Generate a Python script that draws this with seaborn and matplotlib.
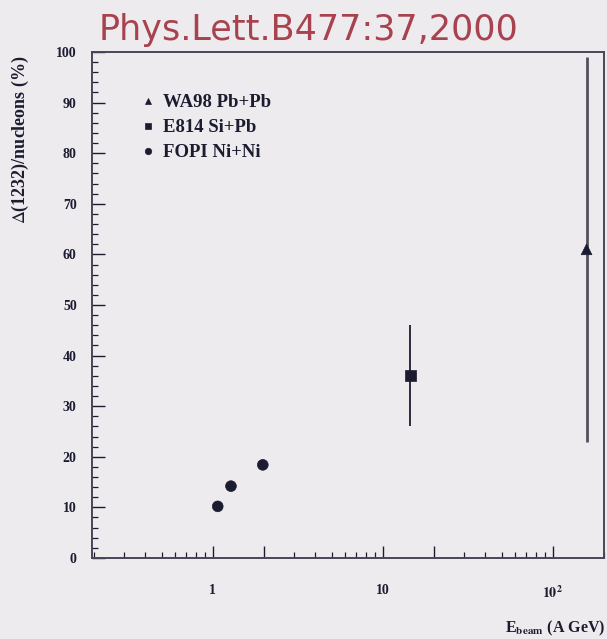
import matplotlib
matplotlib.use("Agg")
import matplotlib.pyplot as plt
import matplotlib.ticker as mticker
import numpy as np
import pandas as pd
import seaborn as sns

# Delta(1232) fraction of nucleons versus beam energy
experiments = ["WA98 Pb+Pb", "E814 Si+Pb", "FOPI Ni+Ni"]
wa98_energy = [158.0]
wa98_frac = [61.0]
wa98_err = [38.0]
e814_energy = [14.5]
e814_frac = [36.0]
e814_err = [10.0]
fopi_energy = [1.07, 1.28, 1.97]
fopi_frac = [10.2, 14.2, 18.4]
fopi_err = [0.0, 0.0, 0.0]

x_ticks = [1, 2, 10, 20, 100]
x_ticklabels = ["1", "", "10", "", r"$\mathbf{10^{2}}$"]
y_ticks = list(range(0, 101, 10))

df = pd.DataFrame({
    "energy": wa98_energy + e814_energy + fopi_energy,
    "frac": wa98_frac + e814_frac + fopi_frac,
    "err": wa98_err + e814_err + fopi_err,
    "exp": [experiments[0]] * len(wa98_energy)
           + [experiments[1]] * len(e814_energy)
           + [experiments[2]] * len(fopi_energy),
})

sns.set_theme(style="white")
bg = "#eeebee"
ink = "#1c1c30"
plt.rcParams["font.family"] = ["Liberation Serif", "DejaVu Serif"]
plt.rcParams["mathtext.fontset"] = "stix"

fig = plt.figure(figsize=(6.07, 6.39), dpi=100, facecolor=bg)
ax = fig.add_axes([0.1516, 0.1268, 0.8434, 0.7918], facecolor=bg)

# vertical error bars without caps
for _, r in df[df["err"] > 0].iterrows():
    ax.errorbar(r["energy"], r["frac"], yerr=r["err"], fmt="none",
                ecolor=ink if r["exp"] != experiments[0] else "#55505e",
                elinewidth=1.3 if r["exp"] != experiments[0] else 2.0,
                capsize=0, zorder=2)

sns.scatterplot(data=df, x="energy", y="frac", hue="exp", style="exp",
                hue_order=experiments, style_order=experiments,
                palette=[ink] * 3,
                markers={experiments[0]: "^", experiments[1]: "s", experiments[2]: "o"},
                s=60, edgecolor=ink, linewidth=0.5, ax=ax, zorder=3, legend=True)

ax.set_xscale("log")
ax.set_xlim(0.195, 200)
ax.set_ylim(0, 100)

ax.set_xticks(x_ticks)
ax.set_xticklabels(x_ticklabels)
ax.xaxis.set_minor_locator(mticker.LogLocator(base=10, subs=[3, 4, 5, 6, 7, 8, 9, 2], numticks=20))
ax.set_yticks(y_ticks)
ax.yaxis.set_minor_locator(mticker.MultipleLocator(2))

ax.tick_params(axis="both", which="both", bottom=True, left=True, top=False, right=False)
ax.tick_params(axis="both", which="major", direction="in", length=9, width=1.0,
               colors=ink, labelsize=10)
ax.tick_params(axis="both", which="minor", direction="in", length=4.5, width=0.9,
               colors=ink)
ax.tick_params(axis="x", which="major", pad=19)
ax.tick_params(axis="y", which="major", pad=11)
for lab in ax.get_xticklabels() + ax.get_yticklabels():
    lab.set_fontweight("bold")

for side in ["left", "bottom", "top", "right"]:
    ax.spines[side].set_color("#4a4658")
    ax.spines[side].set_linewidth(1.4)

ax.set_xlabel("")
ax.set_ylabel("")
fig.text(0.033, 0.914, r"$\Delta$(1232)/nucleons (%)", rotation=90, ha="center", va="top",
         fontsize=13, fontweight="bold", color=ink)
fig.text(0.997, 0.002, r"E$_{\mathbf{beam}}$ (A GeV)", ha="right", va="bottom",
         fontsize=11.5, fontweight="bold", color=ink)

handles, labels = ax.get_legend_handles_labels()
leg = ax.legend(handles, labels, loc="upper left", bbox_to_anchor=(0.05, 0.95),
                frameon=False, handletextpad=0.1, handlelength=1.4, labelspacing=0.42,
                prop={"family": "Liberation Serif", "weight": "bold", "size": 13.5},
                markerscale=0.6)
for t in leg.get_texts():
    t.set_color(ink)

fig.text(0.508, 0.953, "Phys.Lett.B477:37,2000", ha="center", va="center",
         fontsize=25.2, color="#a8424e", family="DejaVu Sans")

fig.savefig("out.png", dpi=100, facecolor=bg)
